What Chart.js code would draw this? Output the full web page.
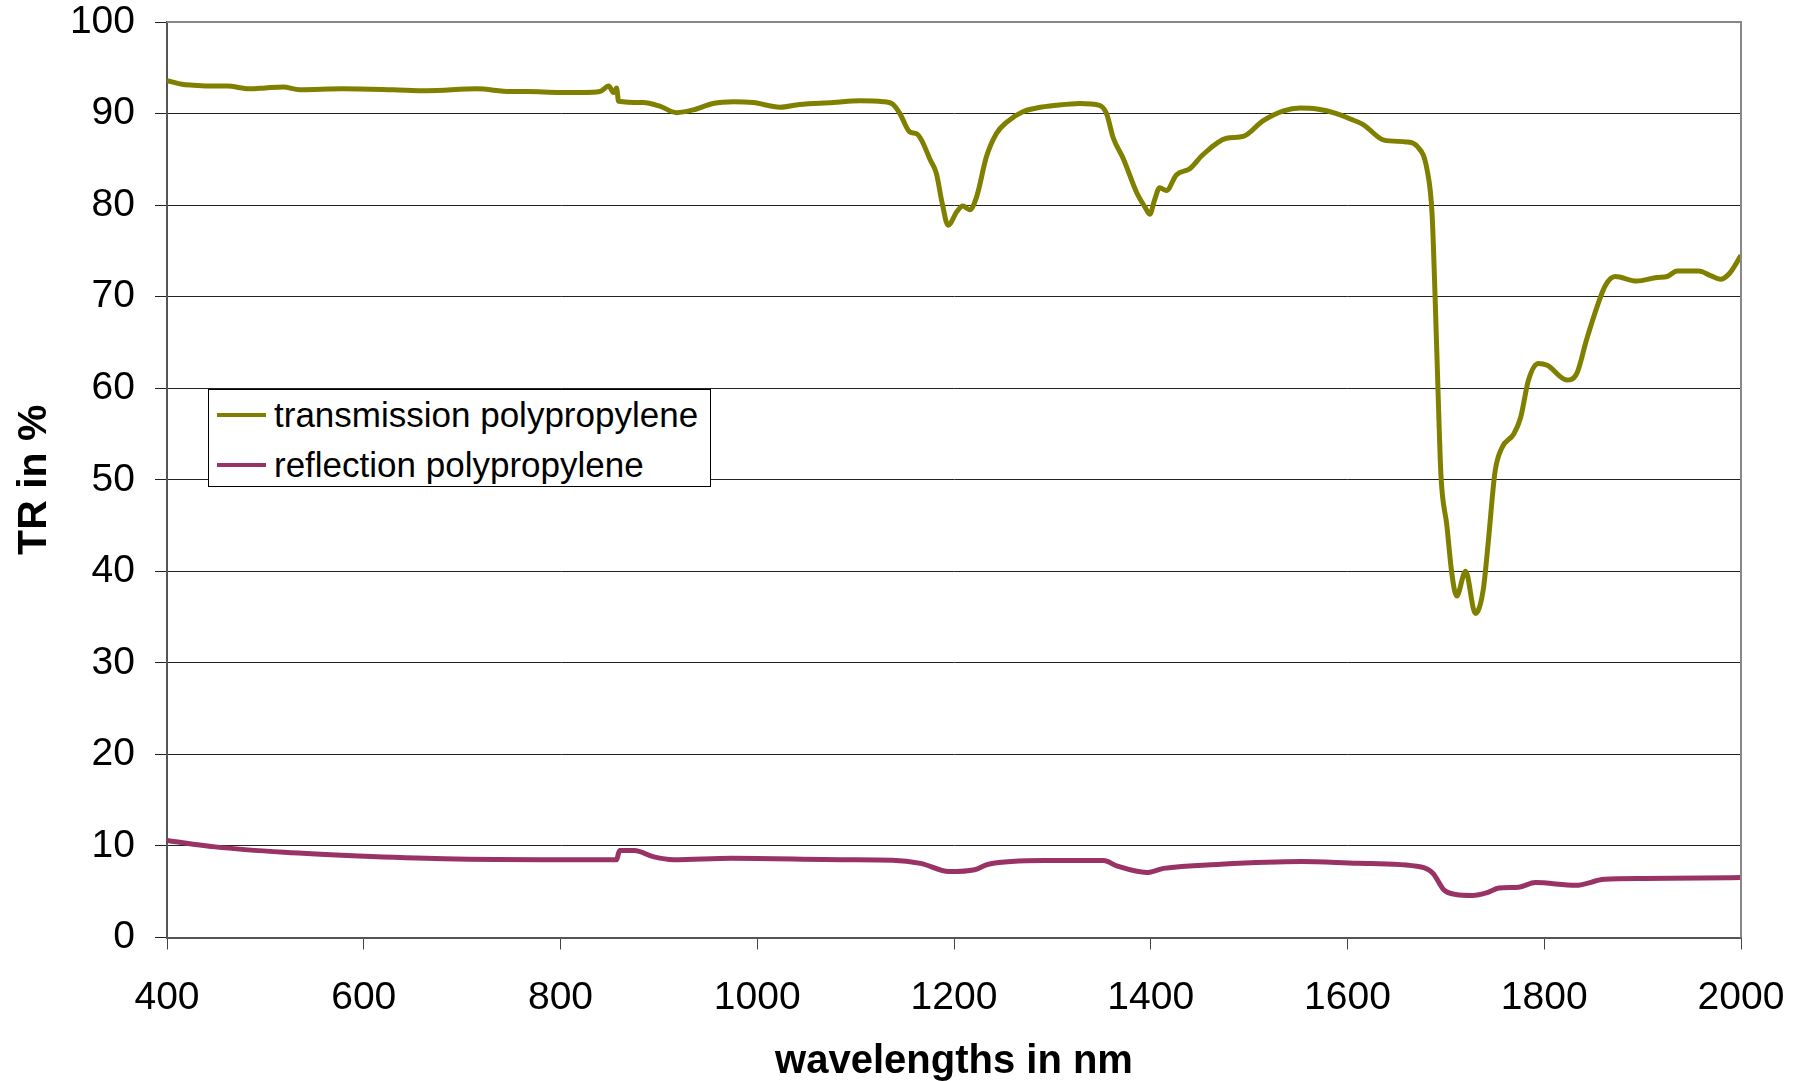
<!DOCTYPE html>
<html>
<head>
<meta charset="utf-8">
<title>TR polypropylene</title>
<script src="https://cdn.jsdelivr.net/npm/chart.js@4.4.1/dist/chart.umd.min.js"></script>
<style>
    body { margin: 0; background: #fff; }
    #wrap { position: relative; width: 1798px; height: 1081px; }
    #legend {
        position: absolute; left: 208px; top: 389px; width: 501px; height: 96px;
        border: 1px solid #000; background: #fff;
        font-family: "Liberation Sans", Arial, sans-serif; font-size: 35px; color: #000;
    }
    #legend .row { position: absolute; left: 0; height: 40px; line-height: 40px; white-space: nowrap; }
    #legend .swatch { position: absolute; left: 8px; top: 18px; width: 49px; height: 4px; }
    #legend .txt { position: absolute; left: 65px; top: 0; }
</style>
</head>
<body>
<div id="wrap">
    <canvas id="chart-pp" width="1798" height="1081"></canvas>
    <div id="legend"></div>
</div>
<script>
// transmission spectrum (nm / %)
const transWavelengths = [400, 415, 427, 445, 461, 484, 500, 518, 535, 579, 630, 664, 715, 749, 766, 800, 823, 840, 849, 854, 857, 859,
    884, 901, 918, 935, 955, 976, 996, 1023, 1043, 1077, 1104, 1128, 1138, 1145, 1155, 1162, 1167, 1176, 1182, 1188, 1194,
    1203, 1209, 1216, 1223, 1233, 1243, 1254, 1270, 1284, 1304, 1328, 1348, 1355, 1362, 1372, 1386, 1394, 1399, 1404, 1409,
    1416, 1426, 1440, 1453, 1477, 1494, 1514, 1535, 1552, 1569, 1589, 1603, 1616, 1637, 1660, 1671, 1681, 1686, 1689, 1692,
    1695, 1701, 1706, 1711, 1720, 1730, 1738, 1743, 1750, 1757, 1769, 1776, 1784, 1794, 1803, 1823, 1833, 1843, 1854, 1862,
    1872, 1894, 1915, 1925, 1935, 1957, 1969, 1979, 1988, 2000];
const transValues = [93.6, 93.2, 93.1, 93.0, 93.0, 92.7, 92.8, 92.9, 92.6, 92.7, 92.6, 92.5, 92.7, 92.4, 92.4, 92.3, 92.3, 92.4, 93.0, 92.3, 92.8, 91.35,
    91.2, 90.8, 90.1, 90.4, 91.1, 91.3, 91.2, 90.7, 91.0, 91.2, 91.4, 91.3, 91.0, 90.0, 88.0, 87.8, 87.1, 84.9, 83.5, 80.2, 77.8,
    79.3, 79.9, 79.5, 80.9, 85.3, 87.8, 89.1, 90.2, 90.6, 90.9, 91.1, 90.9, 90.0, 87.3, 85.1, 81.3, 79.8, 79.0, 80.6, 81.9,
    81.6, 83.3, 84.0, 85.5, 87.3, 87.5, 89.2, 90.3, 90.6, 90.5, 90.0, 89.4, 88.8, 87.1, 86.9, 86.4, 83.8, 79.0, 70.1, 59.8,
    50.5, 45.0, 39.8, 37.3, 40.0, 35.4, 38.0, 43.1, 50.9, 53.5, 55.0, 56.8, 60.9, 62.7, 62.5, 60.9, 61.6, 65.3, 69.0, 71.2,
    72.2, 71.7, 72.1, 72.2, 72.8, 72.8, 72.3, 71.9, 72.5, 74.5];

// reflection spectrum (nm / %)
const reflWavelengths = [400, 449, 519, 595, 682, 799, 857, 860, 875, 895, 915, 974, 1090, 1137, 1166, 1195, 1221, 1235, 1291,
    1352, 1366, 1396, 1413, 1471, 1553, 1611, 1675, 1687, 1698, 1710, 1727, 1742, 1754, 1774, 1791, 1832, 1861, 1902, 1960, 2000];
const reflValues = [10.6, 9.9, 9.3, 8.9, 8.6, 8.5, 8.5, 9.5, 9.5, 8.8, 8.5, 8.65, 8.5, 8.45, 8.1, 7.2, 7.4, 8.0, 8.4,
    8.4, 7.8, 7.1, 7.55, 8.0, 8.3, 8.1, 7.7, 7.0, 5.2, 4.7, 4.6, 4.9, 5.4, 5.5, 6.0, 5.7, 6.35, 6.45, 6.5, 6.55];

const seriesNames = ["transmission polypropylene", "reflection polypropylene"];
const seriesColors = ["#808000", "#993366"];

const xTitle = "wavelengths in nm";
const yTitle = "TR in %";

const fontFamily = '"Liberation Sans", Arial, sans-serif';

function toPoints(xs, ys) {
    return xs.map(function (x, i) { return { x: x, y: ys[i] }; });
}

// grey frame on top / right of the plot area
const frameBox = {
    id: 'frameBox',
    afterDraw: function (chart) {
        var a = chart.chartArea;
        var ctx = chart.ctx;
        ctx.save();
        ctx.strokeStyle = '#888';
        ctx.lineWidth = 2;
        ctx.beginPath();
        ctx.moveTo(a.left, a.top);
        ctx.lineTo(a.right, a.top);
        ctx.lineTo(a.right, a.bottom);
        ctx.stroke();
        ctx.restore();
    }
};

var chartInstance = new Chart(document.getElementById("chart-pp"), {
    type: 'line',
    data: {
        datasets: [
            {
                label: seriesNames[0],
                data: toPoints(transWavelengths, transValues),
                borderColor: seriesColors[0],
                borderWidth: 5,
                pointRadius: 0,
                cubicInterpolationMode: 'monotone'
            },
            {
                label: seriesNames[1],
                data: toPoints(reflWavelengths, reflValues),
                borderColor: seriesColors[1],
                borderWidth: 5,
                pointRadius: 0,
                cubicInterpolationMode: 'monotone'
            }
        ]
    },
    options: {
        responsive: false,
        animation: false,
        devicePixelRatio: 1,
        layout: { padding: { top: 22, right: 57, bottom: 0, left: 0 } },
        plugins: {
            legend: { display: false },
            tooltip: { enabled: false }
        },
        scales: {
            x: {
                type: 'linear',
                min: 400,
                max: 2000,
                ticks: {
                    stepSize: 200, color: '#000', padding: 25, font: { family: fontFamily, size: 39 },
                    callback: function (v) { return String(v); }
                },
                grid: { drawOnChartArea: false, drawTicks: true, tickLength: 12, color: '#444', lineWidth: 1 },
                border: { color: '#555', width: 2 },
                title: { display: true, text: xTitle, color: '#000', padding: { top: 0, bottom: -5 },
                    font: { family: fontFamily, size: 40, weight: 'bold' } },
                afterFit: function (scale) {
                    scale.height = 143.5;
                    // end labels may hang over the plot edge
                    scale.paddingLeft = 0;
                    scale.paddingRight = 0;
                }
            },
            y: {
                min: 0,
                max: 100,
                ticks: {
                    stepSize: 10, color: '#000', padding: 20, font: { family: fontFamily, size: 39 },
                    callback: function (v) { return String(v); }
                },
                grid: { color: '#222', lineWidth: 1, tickLength: 12 },
                border: { color: '#555', width: 2 },
                title: { display: true, text: yTitle, color: '#000', padding: { top: 10, bottom: 0 },
                    font: { family: fontFamily, size: 41, weight: 'bold' } },
                afterFit: function (scale) {
                    scale.width = 167;
                    scale.paddingTop = 0;
                    scale.paddingBottom = 0;
                }
            }
        }
    },
    plugins: [frameBox]
});

// legend box inside the plot
var html = "";
chartInstance.data.datasets.forEach(function (ds, i) {
    html += '<div class="row" style="top:' + (5 + i * 50) + 'px">' +
        '<div class="swatch" style="background:' + ds.borderColor + '"></div>' +
        '<div class="txt">' + ds.label + '</div></div>';
});
document.getElementById("legend").innerHTML = html;
</script>
</body>
</html>
